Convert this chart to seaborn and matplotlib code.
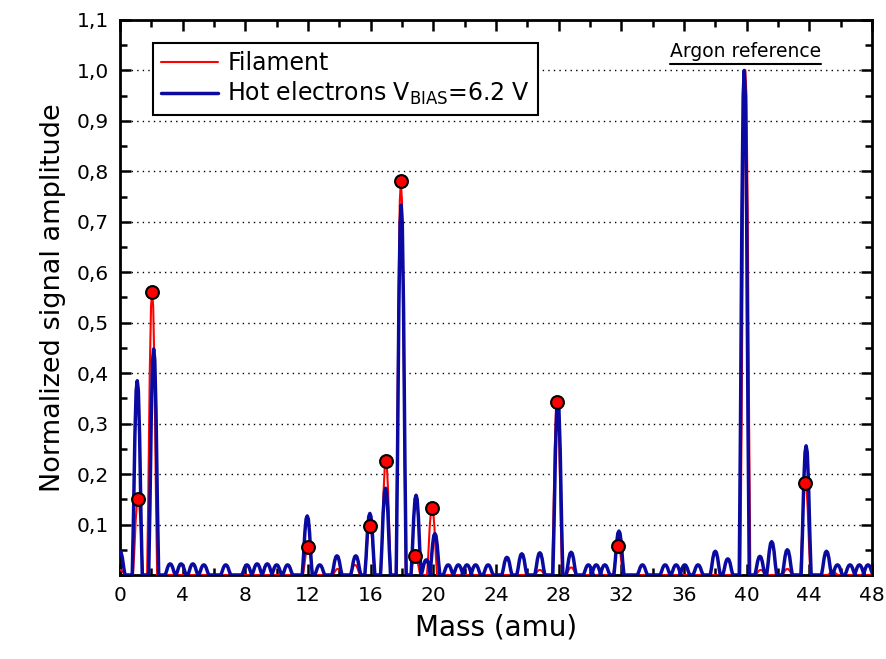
import numpy as np
import pandas as pd
import matplotlib
matplotlib.use("Agg")
import matplotlib.pyplot as plt
from matplotlib.ticker import MultipleLocator
import seaborn as sns

# ---- data ----
hot_mass = [0.0, 1.1, 2.15, 3.2, 3.9, 4.65, 5.35, 6.75, 8.1, 8.75, 9.4, 10.0, 10.7,
            11.95, 12.75, 13.85, 15.05, 15.95, 16.95, 17.95, 18.9, 19.55, 20.1,
            20.95, 21.6, 22.15, 22.7, 23.5, 24.7, 25.65, 26.8, 27.95, 28.8, 29.9,
            30.4, 30.95, 31.85, 33.35, 34.8, 35.5, 36.05, 36.9, 38.0, 38.8, 39.85,
            40.85, 41.6, 42.6, 43.8, 45.1, 45.8, 46.6, 47.2, 47.75]
hot_height = [0.047, 0.385, 0.448, 0.022, 0.022, 0.022, 0.02, 0.02, 0.02, 0.022, 0.022, 0.02, 0.02,
              0.117, 0.02, 0.038, 0.038, 0.122, 0.172, 0.733, 0.158, 0.03, 0.082,
              0.02, 0.02, 0.02, 0.02, 0.02, 0.035, 0.042, 0.044, 0.345, 0.045, 0.02,
              0.02, 0.02, 0.087, 0.02, 0.02, 0.02, 0.02, 0.02, 0.047, 0.032, 1.0,
              0.037, 0.066, 0.05, 0.256, 0.047, 0.02, 0.02, 0.02, 0.02]

fil_mass = [0.0, 1.15, 2.05, 12.0, 13.9, 15.0, 15.95, 16.97, 17.93, 18.85, 19.92,
            26.8, 27.9, 28.8, 31.8, 39.92, 40.9, 42.6, 43.75, 45.5]
fil_height = [0.01, 0.15, 0.56, 0.055, 0.012, 0.02, 0.098, 0.225, 0.78, 0.037, 0.133,
              0.01, 0.343, 0.015, 0.057, 1.0, 0.01, 0.012, 0.183, 0.006]

dot_mass = [1.15, 2.05, 12.0, 15.95, 16.97, 17.93, 18.85, 19.92, 27.9, 31.8, 43.75]
dot_height = [0.15, 0.56, 0.055, 0.098, 0.225, 0.78, 0.037, 0.133, 0.343, 0.057, 0.183]

# peak line shape (offset in amu, fraction of peak height)
profile_dx = [-0.32, -0.24, -0.15, -0.07, 0.0, 0.07, 0.15, 0.24, 0.32]
profile_rel = [0.0, 0.3, 0.72, 0.95, 1.0, 0.95, 0.72, 0.3, 0.0]

x_ticks = [0, 4, 8, 12, 16, 20, 24, 28, 32, 36, 40, 44, 48]
y_ticks = [0.0, 0.1, 0.2, 0.3, 0.4, 0.5, 0.6, 0.7, 0.8, 0.9, 1.0, 1.1]
y_labels = ["", "0,1", "0,2", "0,3", "0,4", "0,5", "0,6", "0,7", "0,8", "0,9", "1,0", "1,1"]


def build(masses, heights, name):
    xs, ys = [-0.5], [0.0]
    for c, h in sorted(zip(masses, heights)):
        for dx, r in zip(profile_dx, profile_rel):
            xs.append(c + dx)
            ys.append(h * r)
    xs.append(48.5)
    ys.append(0.0)
    return pd.DataFrame({"mass": xs, "amp": ys, "series": name})


fil_df = build(fil_mass, fil_height, "Filament")
hot_df = build(hot_mass, hot_height, "Hot")
dots_df = pd.DataFrame({"mass": dot_mass, "amp": dot_height})

sns.set_theme(style="white")
plt.rcParams["font.family"] = ["DejaVu Sans"]
plt.rcParams["mathtext.default"] = "regular"
plt.rcParams["text.color"] = "black"
plt.rcParams["axes.labelcolor"] = "black"
plt.rcParams["xtick.color"] = "black"
plt.rcParams["ytick.color"] = "black"

fig = plt.figure(figsize=(8.87, 6.59), dpi=100)
ax = fig.add_axes([0.1353, 0.1275, 0.8477, 0.8422])

red = "#ff0000"
blue = "#0a0aa0"

sns.lineplot(data=fil_df, x="mass", y="amp", ax=ax, color=red, linewidth=1.5,
             sort=False, estimator=None, zorder=3, label="Filament")
sns.lineplot(data=hot_df, x="mass", y="amp", ax=ax, color=blue, linewidth=2.5,
             sort=False, estimator=None, zorder=4,
             label=r"Hot electrons V$_{\mathrm{BIAS}}$=6.2 V")
sns.scatterplot(data=dots_df, x="mass", y="amp", ax=ax, s=85, color=red,
                edgecolor="black", linewidth=1.5, zorder=6, legend=False)

ax.set_xlim(0, 48)
ax.set_ylim(0, 1.1)
ax.set_xticks(x_ticks)
ax.set_xticklabels([str(t) for t in x_ticks])
ax.set_yticks(y_ticks)
ax.set_yticklabels(y_labels)
ax.xaxis.set_minor_locator(MultipleLocator(2))
ax.yaxis.set_minor_locator(MultipleLocator(0.05))
ax.tick_params(which="both", direction="in", top=True, right=True, bottom=True, left=True,
               width=1.8, colors="black", labelcolor="black")
ax.tick_params(which="major", length=8, labelsize=14.5, pad=8)
ax.tick_params(which="minor", length=5)
ax.yaxis.grid(True, which="major", linestyle=(0, (1, 3)), color="black", linewidth=1)
ax.xaxis.grid(False)
for s in ax.spines.values():
    s.set_linewidth(2)
    s.set_color("black")
    s.set_visible(True)

ax.set_xlabel("Mass (amu)", fontsize=20, labelpad=6, color="black")
ax.set_ylabel("Normalized signal amplitude", fontsize=19.5, labelpad=8, color="black")

leg = ax.legend(loc="upper left", bbox_to_anchor=(0.044, 0.9586), borderaxespad=0,
                fontsize=17, frameon=True, fancybox=False, edgecolor="black", framealpha=1,
                handlelength=2.4, borderpad=0.35, labelspacing=0.2, handletextpad=0.4)
leg.get_frame().set_linewidth(1.5)
for t in leg.get_texts():
    t.set_color("black")

txt = ax.text(39.92, 1.037, "Argon reference", ha="center", va="center", fontsize=13.5,
              color="black", zorder=7)
fig.canvas.draw()
bb = txt.get_window_extent().transformed(fig.transFigure.inverted())
fig.add_artist(plt.Line2D([bb.x0, bb.x1], [bb.y0 - 0.004, bb.y0 - 0.004],
                          transform=fig.transFigure, color="black", linewidth=1.5))

fig.savefig("out.png", dpi=100)
